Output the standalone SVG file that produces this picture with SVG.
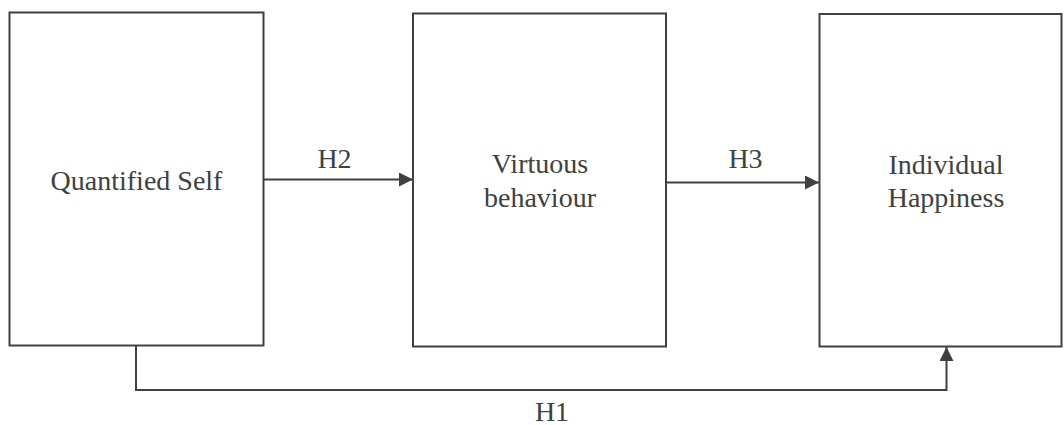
<svg xmlns="http://www.w3.org/2000/svg" width="1064" height="425" viewBox="0 0 1064 425">
<style>
.box{fill:#fff;stroke:#404040;stroke-width:2}
.c{fill:none;stroke:#404040;stroke-width:2}
</style>
<defs>
<marker id="ah" markerWidth="14" markerHeight="14" refX="14" refY="7" orient="auto" markerUnits="userSpaceOnUse">
<path d="M0,0 L14,7 L0,14 Z" fill="#404040"/>
</marker>
</defs>
<rect width="1064" height="425" fill="#fff"/>
<g font-family="'Liberation Serif', 'Times New Roman', serif" font-size="28" fill="#404040" text-anchor="middle">
<g id="n1">
<rect class="box" x="9.5" y="12.5" width="254" height="333"/>
<text x="136.5" y="190">Quantified Self</text>
</g>
<g id="n2">
<rect class="box" x="413" y="13.5" width="253" height="333"/>
<text x="540" y="173">Virtuous</text>
<text x="540" y="206.5">behaviour</text>
</g>
<g id="n3">
<rect class="box" x="819.5" y="14" width="242" height="332.5"/>
<text x="946" y="174">Individual</text>
<text x="946" y="206.5">Happiness</text>
</g>
<g id="connectors">
<line class="c" x1="264" y1="179.5" x2="413" y2="179.5" marker-end="url(#ah)"/>
<line class="c" x1="666" y1="182.5" x2="819" y2="182.5" marker-end="url(#ah)"/>
<polyline class="c" points="136,346 136,390 946.5,390 946.5,347" marker-end="url(#ah)"/>
<text x="334.5" y="168">H2</text>
<text x="745.5" y="168">H3</text>
<text x="552" y="421">H1</text>
</g>
</g>
</svg>
